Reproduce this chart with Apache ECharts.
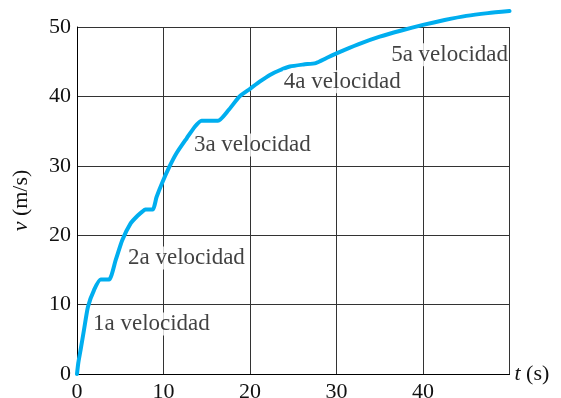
<!DOCTYPE html>
<html>
<head>
<meta charset="utf-8">
<script src="https://cdn.jsdelivr.net/npm/echarts@6/dist/echarts.min.js"></script>
<style>html,body{margin:0;padding:0;background:#fff}#c{width:561px;height:398px}</style>
</head>
<body>
<div id="c"></div>
<script>
var timeS = [0, 0.15, 0.42, 0.8, 1.27, 1.97, 2.74, 3.7, 4.47, 5.24, 6.2, 7.0, 7.55, 7.9, 8.75, 9.2, 9.9, 10.7, 11.5, 12.7, 13.6, 14.4, 16.3, 17.5, 18.8, 20, 21.2, 22.3, 23.5, 24.6, 26.2, 27.6, 28.8, 30, 32.5, 35, 37.5, 40, 42.5, 45, 47.5, 50];
var velocity = [0, 1.6, 3.5, 6.3, 9.7, 12.1, 13.6, 13.6, 16.4, 19.3, 21.7, 22.8, 23.4, 23.7, 23.7, 25.5, 27.7, 29.9, 31.8, 34.0, 35.6, 36.5, 36.5, 38.0, 40, 41.1, 42.2, 43.1, 43.8, 44.3, 44.6, 44.8, 45.5, 46.2, 47.5, 48.6, 49.5, 50.3, 51.0, 51.6, 52.0, 52.3];
var gearLabels = ['1a velocidad', '2a velocidad', '3a velocidad', '4a velocidad', '5a velocidad'];
var gearLabelT = [1.73, 5.78, 13.4, 23.8, 36.2];
var gearLabelV = [7.2, 16.7, 33.0, 42.1, 46.0];
var xTicks = [0, 10, 20, 30, 40, 50];
var yTicks = [0, 10, 20, 30, 40, 50];

var serif = '"Liberation Serif", "Times New Roman", serif';
var txt = '#111';
var fs = 22;
var chart = echarts.init(document.getElementById('c'));
chart.setOption({
  animation: false,
  grid: { left: 77, top: 27, right: 51.5, bottom: 24, containLabel: false, outerBoundsMode: 'none' },
  xAxis: {
    type: 'value', min: xTicks[0], max: xTicks[xTicks.length - 1], interval: 10,
    name: '{i|t} (s)', nameLocation: 'end', nameGap: 5,
    nameTextStyle: { fontFamily: serif, fontSize: fs, color: txt, align: 'left', verticalAlign: 'middle',
      rich: { i: { fontStyle: 'italic', fontFamily: serif, fontSize: fs, color: txt } } },
    axisLine: { show: true, lineStyle: { color: '#000', width: 1 } },
    axisTick: { show: false },
    axisLabel: { fontFamily: serif, fontSize: fs, color: txt, margin: 7,
      formatter: function (v) { return v === 50 ? '' : String(v); } },
    splitLine: { show: true, lineStyle: { color: '#333', width: 1 } }
  },
  yAxis: {
    type: 'value', min: yTicks[0], max: yTicks[yTicks.length - 1], interval: 10,
    name: '{i|v} (m/s)', nameLocation: 'middle', nameGap: 45, nameRotate: 90,
    nameTextStyle: { fontFamily: serif, fontSize: fs, color: txt,
      rich: { i: { fontStyle: 'italic', fontFamily: serif, fontSize: fs, color: txt } } },
    axisLine: { show: true, lineStyle: { color: '#000', width: 1 } },
    axisTick: { show: false },
    axisLabel: { fontFamily: serif, fontSize: fs, color: txt, margin: 6 },
    splitLine: { show: true, lineStyle: { color: '#333', width: 1 } }
  },
  series: [
    {
      type: 'line',
      data: timeS.map(function (t, i) { return [t, velocity[i]]; }),
      showSymbol: false,
      smooth: 0.2,
      clip: false,
      lineStyle: { color: '#00aeef', width: 4, join: 'round', cap: 'round' },
      z: 3
    },
    {
      type: 'scatter',
      symbolSize: 0,
      data: gearLabels.map(function (s, i) { return { value: [gearLabelT[i], gearLabelV[i]], name: s }; }),
      label: {
        show: true, position: 'inside', align: 'left', verticalAlign: 'middle',
        formatter: function (p) { return p.name; },
        fontFamily: serif, fontSize: 23, color: txt,
        backgroundColor: '#fff', padding: [0, 1]
      },
      silent: true,
      z: 4
    }
  ]
});
</script>
</body>
</html>
